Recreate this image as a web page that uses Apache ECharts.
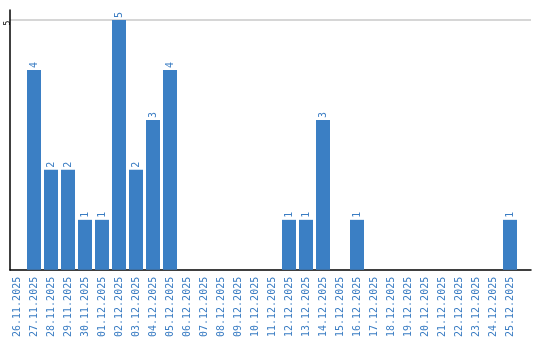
<!DOCTYPE html>
<html><head><meta charset="utf-8">
<script src="https://cdn.jsdelivr.net/npm/echarts@6/dist/echarts.min.js"></script>
<style>html,body{margin:0;padding:0;background:#fff}#c{width:540px;height:340px}</style>
</head><body><div id="c"></div>
<script>
const categories = ['26.11.2025','27.11.2025','28.11.2025','29.11.2025','30.11.2025','01.12.2025','02.12.2025','03.12.2025','04.12.2025','05.12.2025','06.12.2025','07.12.2025','08.12.2025','09.12.2025','10.12.2025','11.12.2025','12.12.2025','13.12.2025','14.12.2025','15.12.2025','16.12.2025','17.12.2025','18.12.2025','19.12.2025','20.12.2025','21.12.2025','22.12.2025','23.12.2025','24.12.2025','25.12.2025'];
const values = [0,4,2,2,1,1,5,2,3,4,0,0,0,0,0,0,1,1,3,0,1,0,0,0,0,0,0,0,0,1];
const yTicks = [5];

const blue = '#3b7dc3';
const font = 'DejaVu Sans Mono';
const chart = echarts.init(document.getElementById('c'), null, {renderer:'canvas'});
chart.setOption({
  animation:false,
  grid:[
    {left:10, right:9, top:10, bottom:70},
    {left:8.5, width:510, top:10, bottom:70}
  ],
  xAxis:[
    {gridIndex:0, type:'value', min:0, max:1, axisLine:{show:true,lineStyle:{color:'#000',width:1.5}}, axisTick:{show:false}, axisLabel:{show:false}, splitLine:{show:false}},
    {gridIndex:1, type:'category', data:categories, axisLine:{show:false}, axisTick:{show:false},
     axisLabel:{interval:0, rotate:90, color:blue, fontFamily:font, fontSize:10, margin:7}}
  ],
  yAxis:[
    {gridIndex:0, type:'value', min:0, max:5.2, interval:5,
     axisLine:{show:true,lineStyle:{color:'#000',width:1.5}}, axisTick:{show:false},
     axisLabel:{rotate:90, align:'center', verticalAlign:'middle', fontFamily:font, fontSize:8, color:'#000', margin:2, showMaxLabel:false,
       padding:[0,6,0,0], formatter:v=> yTicks.includes(v) ? String(v) : ''},
     splitLine:{show:true, showMaxLine:false, showMinLine:false, lineStyle:{color:'#c8c8c8', width:1.5}}},
    {gridIndex:1, type:'value', min:0, max:5.2, interval:5, show:false}
  ],
  series:[{
    type:'bar', xAxisIndex:1, yAxisIndex:1, data:values, barWidth:14,
    itemStyle:{color:'#3b7fc4'},
    label:{show:true, position:'top', rotate:90, align:'left', verticalAlign:'middle', distance:2,
      color:blue, fontFamily:font, fontSize:10,
      formatter:p=> p.value>0 ? String(p.value) : ''}
  }]
});
</script></body></html>
